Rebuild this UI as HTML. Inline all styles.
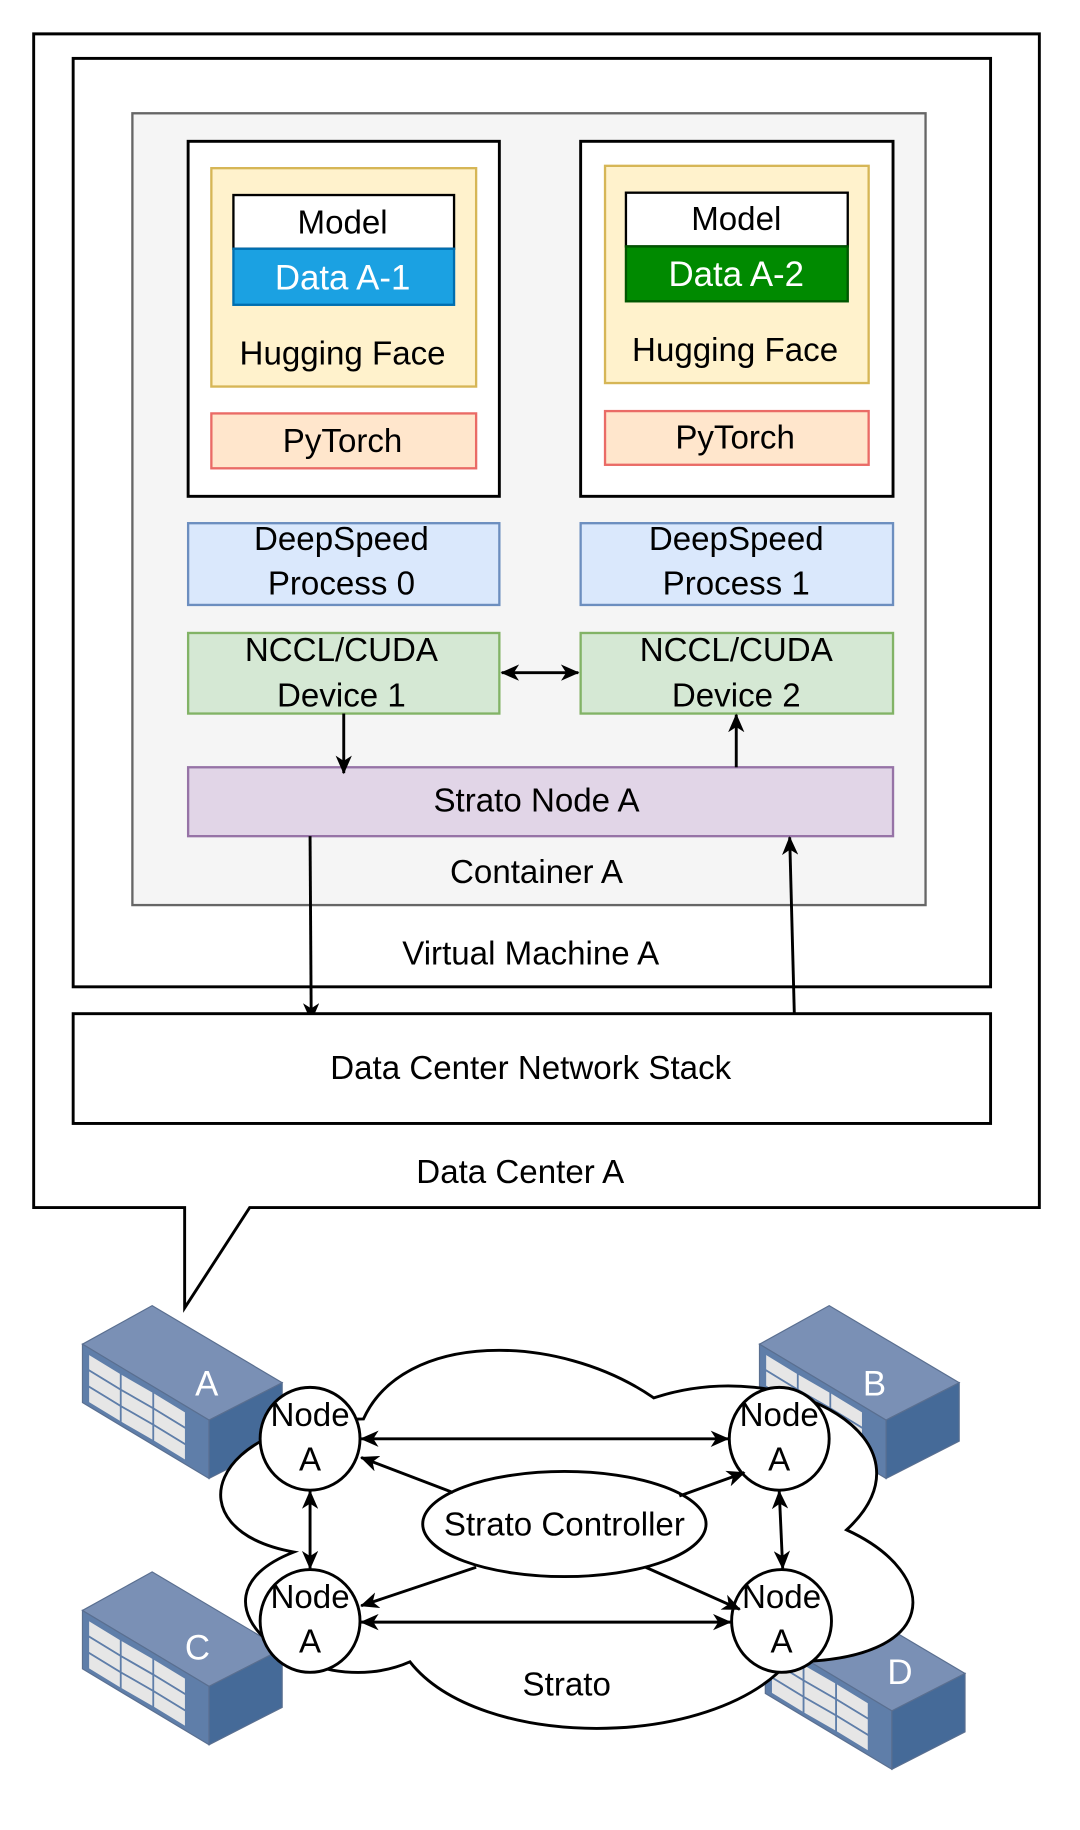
<!DOCTYPE html>
<html><head><meta charset="utf-8"><style>
html,body{margin:0;padding:0;background:#fff;}
svg{display:block;}
text{font-family:"Liberation Sans",sans-serif;font-size:28.5px;fill:#000;text-anchor:middle;dominant-baseline:central;}
</style></head><body>
<svg width="1080" height="1830" viewBox="0 0 930 1567" preserveAspectRatio="none" xmlns="http://www.w3.org/2000/svg">
<defs>
<marker id="ah" viewBox="0 0 16 14" refX="15" refY="7" markerWidth="16" markerHeight="14" markerUnits="userSpaceOnUse" orient="auto-start-reverse">
<path d="M0,0 L16,7 L0,14 L4.5,7 z" fill="#000"/></marker>
<g id="srv">
<polygon points="131,1118 243,1184 180,1216 71,1151" fill="#7a90b5" stroke="#5a6f90" stroke-width="1"/>
<polygon points="71,1151 180,1216 180,1266 71,1201" fill="#5f7ea9" stroke="#5a6f90" stroke-width="1"/>
<polygon points="180,1216 243,1184 243,1234 180,1266" fill="#456a98" stroke="#5a6f90" stroke-width="1"/>
<g fill="#e6e6e6" stroke="#5f7ea9" stroke-width="1.5">
<polygon points="76,1159 104,1176 104,1190 76,1173"/><polygon points="104,1176 132,1192 132,1206 104,1190"/><polygon points="132,1192 160,1209 160,1223 132,1206"/>
<polygon points="76,1173 104,1190 104,1204 76,1187"/><polygon points="104,1190 132,1206 132,1220 104,1204"/><polygon points="132,1206 160,1223 160,1237 132,1220"/>
<polygon points="76,1187 104,1204 104,1218 76,1201"/><polygon points="104,1204 132,1220 132,1234 104,1218"/><polygon points="132,1220 160,1237 160,1251 132,1234"/>
</g></g>
</defs>

<path d="M29,29 L895,29 L895,1034 L215,1034 L159,1120 L159,1034 L29,1034 Z" fill="#fff" stroke="#000" stroke-width="2.5"/>
<rect x="63" y="50" width="790" height="795" fill="#fff" stroke="#000" stroke-width="2.5"/>
<text x="457" y="817">Virtual Machine A</text>
<rect x="114" y="97" width="683" height="678" fill="#f5f5f5" stroke="#666" stroke-width="2"/>
<text x="462" y="747">Container A</text>

<rect x="162" y="121" width="268" height="304" fill="#fff" stroke="#000" stroke-width="2.5"/>
<rect x="182" y="144" width="228" height="187" fill="#fff2cc" stroke="#d6b656" stroke-width="2"/>
<rect x="201" y="167" width="190" height="46" fill="#fff" stroke="#000" stroke-width="2"/>
<text x="295" y="191">Model</text>
<rect x="201" y="213" width="190" height="48" fill="#1ba1e2" stroke="#006eaf" stroke-width="2"/>
<text x="295" y="238" style="fill:#fff;font-size:30px">Data A-1</text>
<text x="295" y="303">Hugging Face</text>
<rect x="182" y="354" width="228" height="47" fill="#ffe6cc" stroke="#ea6b66" stroke-width="2"/>
<text x="295" y="378">PyTorch</text>

<rect x="500" y="121" width="269" height="304" fill="#fff" stroke="#000" stroke-width="2.5"/>
<rect x="521" y="142" width="227" height="186" fill="#fff2cc" stroke="#d6b656" stroke-width="2"/>
<rect x="539" y="165" width="191" height="46" fill="#fff" stroke="#000" stroke-width="2"/>
<text x="634" y="188">Model</text>
<rect x="539" y="211" width="191" height="47" fill="#008a00" stroke="#005700" stroke-width="2"/>
<text x="634" y="235" style="fill:#fff;font-size:30px">Data A-2</text>
<text x="633" y="300">Hugging Face</text>
<rect x="521" y="352" width="227" height="46" fill="#ffe6cc" stroke="#ea6b66" stroke-width="2"/>
<text x="633" y="375">PyTorch</text>

<rect x="162" y="448" width="268" height="70" fill="#dae8fc" stroke="#6c8ebf" stroke-width="2"/>
<text x="294" y="462">DeepSpeed</text><text x="294" y="500">Process 0</text>
<rect x="500" y="448" width="269" height="70" fill="#dae8fc" stroke="#6c8ebf" stroke-width="2"/>
<text x="634" y="462">DeepSpeed</text><text x="634" y="500">Process 1</text>

<rect x="162" y="542" width="268" height="69" fill="#d5e8d4" stroke="#82b366" stroke-width="2"/>
<text x="294" y="557">NCCL/CUDA</text><text x="294" y="596">Device 1</text>
<rect x="500" y="542" width="269" height="69" fill="#d5e8d4" stroke="#82b366" stroke-width="2"/>
<text x="634" y="557">NCCL/CUDA</text><text x="634" y="596">Device 2</text>

<rect x="162" y="657" width="607" height="59" fill="#e1d5e7" stroke="#9673a6" stroke-width="2"/>
<text x="462" y="686">Strato Node A</text>

<g stroke="#000" stroke-width="2.5" fill="none">
<line x1="432" y1="576" x2="498" y2="576" marker-start="url(#ah)" marker-end="url(#ah)"/>
<line x1="296" y1="611" x2="296" y2="662" marker-end="url(#ah)"/>
<line x1="634" y1="657" x2="634" y2="612" marker-end="url(#ah)"/>
<line x1="267" y1="716" x2="268" y2="874" marker-end="url(#ah)"/>
<line x1="684" y1="868" x2="680" y2="717" marker-end="url(#ah)"/>
</g>

<rect x="63" y="868" width="790" height="94" fill="#fff" stroke="#000" stroke-width="2.5"/>
<text x="457" y="915">Data Center Network Stack</text>
<text x="448" y="1004">Data Center A</text>

<use href="#srv"/>
<use href="#srv" transform="translate(583,0)"/>
<use href="#srv" transform="translate(0,228)"/>
<use href="#srv" transform="translate(588,249)"/>
<g style="font-size:30px"><text x="178" y="1185" style="fill:#fff;font-size:30px">A</text>
<text x="753" y="1185" style="fill:#fff;font-size:30px">B</text>
<text x="170" y="1411" style="fill:#fff;font-size:30px">C</text>
<text x="775" y="1432" style="fill:#fff;font-size:30px">D</text></g>

<g transform="translate(147,1121)">
<path d="M166,94 C33,94 0,189 106,208 C0,249 120,340 206,302 C266,378 466,378 532,302 C665,302 665,227 582,189 C665,113 532,38 416,76 C333,19 200,19 166,94 Z" fill="#fff" stroke="#000" stroke-width="2.5"/>
</g>
<text x="488" y="1443">Strato</text>

<g fill="#fff" stroke="#000" stroke-width="2.5">
<ellipse cx="267" cy="1232" rx="43" ry="44"/>
<ellipse cx="671" cy="1232" rx="43" ry="44"/>
<ellipse cx="267" cy="1388" rx="43" ry="44"/>
<ellipse cx="673" cy="1388" rx="43" ry="44"/>
<ellipse cx="486" cy="1305" rx="122" ry="45"/>
</g>
<text x="267" y="1212">Node</text><text x="267" y="1250">A</text>
<text x="671" y="1212">Node</text><text x="671" y="1250">A</text>
<text x="267" y="1368">Node</text><text x="267" y="1406">A</text>
<text x="673" y="1368">Node</text><text x="673" y="1406">A</text>
<text x="486" y="1306">Strato Controller</text>

<g stroke="#000" stroke-width="2.5" fill="none">
<line x1="311" y1="1232" x2="627" y2="1232" marker-start="url(#ah)" marker-end="url(#ah)"/>
<line x1="311" y1="1389" x2="629" y2="1389" marker-start="url(#ah)" marker-end="url(#ah)"/>
<line x1="267" y1="1277" x2="267" y2="1343" marker-start="url(#ah)" marker-end="url(#ah)"/>
<line x1="671" y1="1277" x2="674" y2="1343" marker-start="url(#ah)" marker-end="url(#ah)"/>
<line x1="390" y1="1278" x2="311" y2="1248" marker-end="url(#ah)"/>
<line x1="585" y1="1281" x2="641" y2="1261" marker-end="url(#ah)"/>
<line x1="410" y1="1342" x2="311" y2="1375" marker-end="url(#ah)"/>
<line x1="556" y1="1342" x2="637" y2="1378" marker-end="url(#ah)"/>
</g>
</svg>
</body></html>
